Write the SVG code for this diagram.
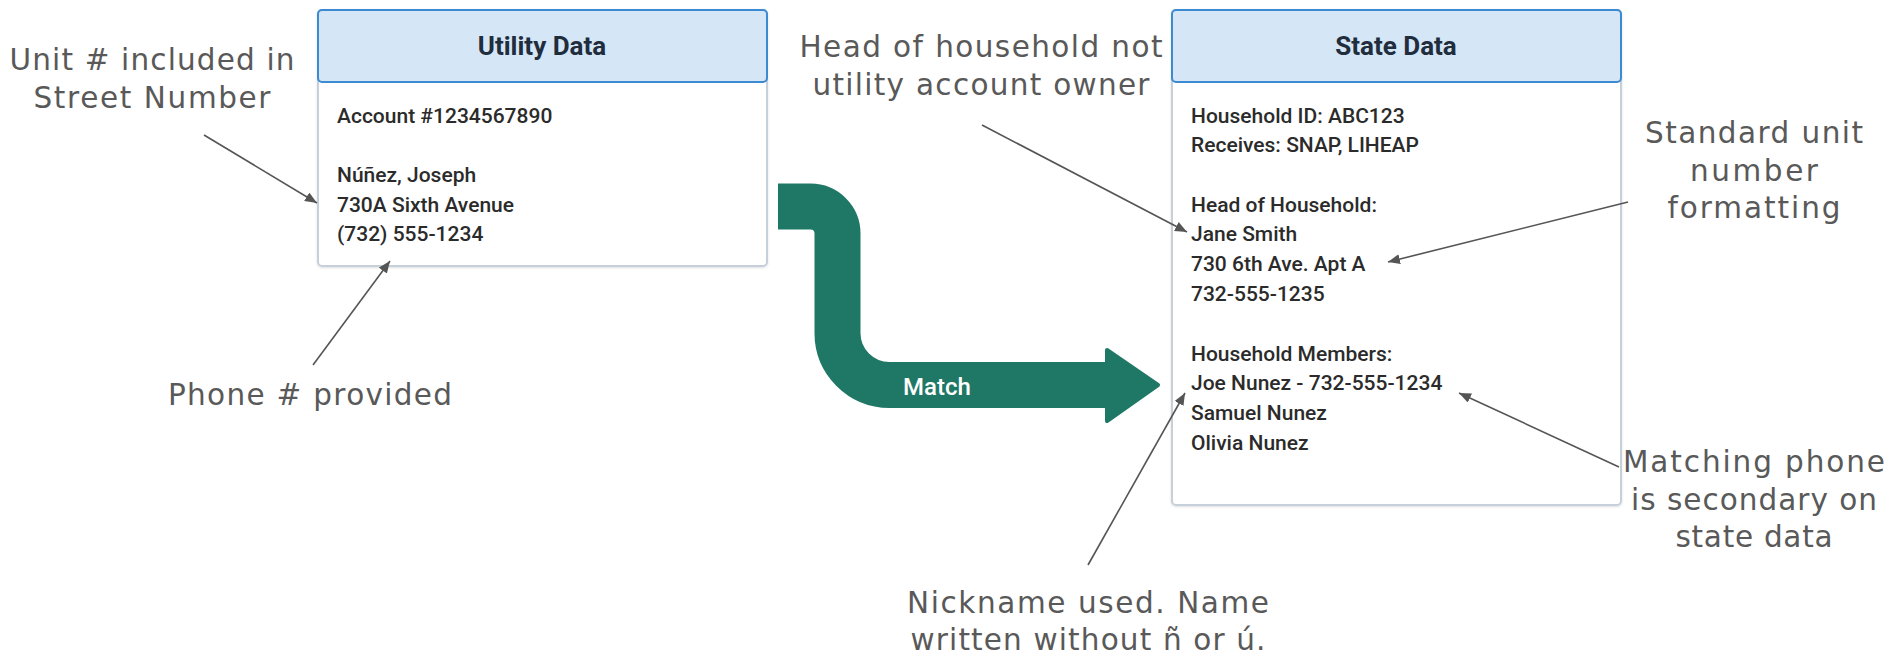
<svg xmlns="http://www.w3.org/2000/svg" width="1888" height="655" viewBox="0 0 1888 655">
  <defs>
    <marker id="ah" markerUnits="userSpaceOnUse" markerWidth="14" markerHeight="11" refX="12" refY="5" orient="auto">
      <path d="M0,0 L12,5 L0,10 z" fill="#555"/>
    </marker>
    <filter id="sh" x="-5%" y="-5%" width="110%" height="110%">
      <feDropShadow dx="0" dy="1" stdDeviation="1.2" flood-color="#000" flood-opacity="0.12"/>
    </filter>
  </defs>
  <style>
    .body { fill: #ffffff; stroke: #c6d0da; stroke-width: 2; }
    .head { fill: #d5e6f6; stroke: #3c8ad2; stroke-width: 2; }
    .htxt { font-family: Roboto, "Liberation Sans", sans-serif; font-weight: bold; font-size: 26px; fill: #1f2d3d; text-anchor: middle; }
    .btxt { font-family: Roboto, "Liberation Sans", sans-serif; font-weight: 500; font-size: 21px; fill: #2b2b2b; }
    .note { font-family: "DejaVu Sans", "Liberation Sans", sans-serif; font-size: 29.5px; fill: #595959; text-anchor: middle; }
    .conn { stroke: #555; stroke-width: 1.6; fill: none; marker-end: url(#ah); }
    .mtxt { font-family: Roboto, "Liberation Sans", sans-serif; font-weight: 500; font-size: 24px; fill: #ffffff; }
  </style>
  <rect width="1888" height="655" fill="#ffffff"/>

  <g id="utility-data">
    <rect class="body" x="318" y="10" width="449" height="256" rx="4" filter="url(#sh)"/>
    <rect class="head" x="318" y="10" width="449" height="72" rx="4"/>
    <text class="htxt" x="542" y="55">Utility Data</text>
    <text class="btxt" x="337" y="123">Account #1234567890</text>
    <text class="btxt" x="337" y="182">Núñez, Joseph</text>
    <text class="btxt" x="337" y="212">730A Sixth Avenue</text>
    <text class="btxt" x="337" y="241">(732) 555-1234</text>
  </g>

  <g id="state-data">
    <rect class="body" x="1172" y="10" width="449" height="495" rx="4" filter="url(#sh)"/>
    <rect class="head" x="1172" y="10" width="449" height="72" rx="4"/>
    <text class="htxt" x="1396" y="55">State Data</text>
    <text class="btxt" x="1191" y="123">Household ID: ABC123</text>
    <text class="btxt" x="1191" y="152">Receives: SNAP, LIHEAP</text>
    <text class="btxt" x="1191" y="212">Head of Household:</text>
    <text class="btxt" x="1191" y="241">Jane Smith</text>
    <text class="btxt" x="1191" y="271">730 6th Ave. Apt A</text>
    <text class="btxt" x="1191" y="301">732-555-1235</text>
    <text class="btxt" x="1191" y="361">Household Members:</text>
    <text class="btxt" x="1191" y="390">Joe Nunez - 732-555-1234</text>
    <text class="btxt" x="1191" y="420">Samuel Nunez</text>
    <text class="btxt" x="1191" y="450">Olivia Nunez</text>
  </g>

  <g id="match-arrow">
    <path d="M778,206.5 H810.5 A27,27 0 0 1 837.5,233.5 V333 A52,52 0 0 0 889.5,385 H1110" fill="none" stroke="#1f7866" stroke-width="46"/>
    <polygon points="1107,350 1158,385 1107,421" fill="#1f7866" stroke="#1f7866" stroke-width="4" stroke-linejoin="round"/>
    <text class="mtxt" x="903" y="395">Match</text>
  </g>

  <g id="note-unit">
    <text class="note" x="152" y="70" textLength="285">Unit # included in</text>
    <text class="note" x="152" y="108" textLength="237">Street Number</text>
  </g>
  <g id="note-phone">
    <text class="note" x="310" y="405" textLength="284">Phone # provided</text>
  </g>
  <g id="note-head">
    <text class="note" x="981" y="57" textLength="363">Head of household not</text>
    <text class="note" x="981" y="95" textLength="337">utility account owner</text>
  </g>
  <g id="note-standard">
    <text class="note" x="1754" y="143" textLength="218">Standard unit</text>
    <text class="note" x="1754" y="181" textLength="128">number</text>
    <text class="note" x="1754" y="218" textLength="173">formatting</text>
  </g>
  <g id="note-matching">
    <text class="note" x="1754" y="472" textLength="262">Matching phone</text>
    <text class="note" x="1754" y="510" textLength="246">is secondary on</text>
    <text class="note" x="1754" y="547" textLength="157">state data</text>
  </g>
  <g id="note-nickname">
    <text class="note" x="1088" y="613" textLength="362">Nickname used. Name</text>
    <text class="note" x="1088" y="650" textLength="355">written without ñ or ú.</text>
  </g>

  <g id="connectors">
    <line class="conn" x1="204" y1="135" x2="317" y2="203"/>
    <line class="conn" x1="313" y1="365" x2="390" y2="261"/>
    <line class="conn" x1="982" y1="125" x2="1187" y2="232"/>
    <line class="conn" x1="1628" y1="202" x2="1388" y2="262"/>
    <line class="conn" x1="1619" y1="467" x2="1459" y2="393"/>
    <line class="conn" x1="1088" y1="565" x2="1185" y2="393"/>
  </g>
</svg>
